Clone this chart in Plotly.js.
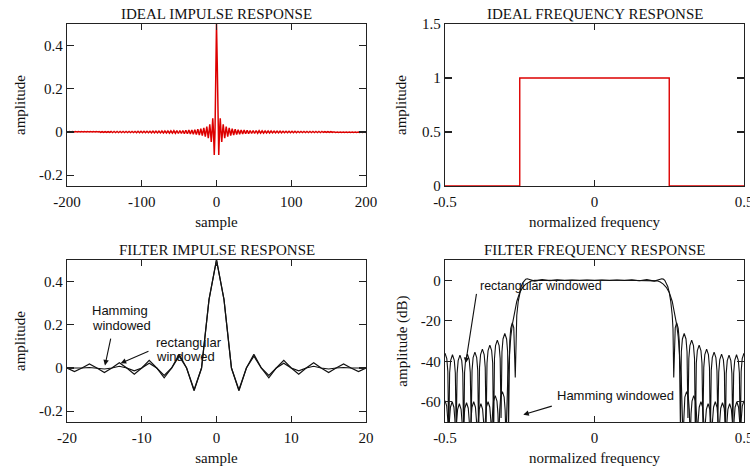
<!DOCTYPE html>
<html>
<head>
<meta charset="utf-8">
<script src="https://cdn.plot.ly/plotly-3.0.1.min.js"></script>
<style>
  html, body { margin: 0; padding: 0; background: #fff; }
  #chart { width: 750px; height: 466px; }
</style>
</head>
<body>
<div id="chart"></div>
<script>
// ---------------- DATA ----------------
// Ideal impulse response: value at n = 0 and signed values at odd samples n = 1,3,5,...,199 (even samples are 0, symmetric)
const idealCenter = 0.5;
const idealOddSigned = [
  0.3183, -0.1061, 0.0637, -0.0455, 0.0354, -0.0289, 0.0245, -0.0212, 0.0187, -0.0168,
  0.0152, -0.0138, 0.0127, -0.0118, 0.0110, -0.0103, 0.0096, -0.0091, 0.0086, -0.0082,
  0.0078, -0.0074, 0.0071, -0.0068, 0.0065, -0.0062, 0.0060, -0.0058, 0.0056, -0.0054,
  0.0052, -0.0051, 0.0049, -0.0048, 0.0046, -0.0045, 0.0044, -0.0042, 0.0041, -0.0040,
  0.0039, -0.0038, 0.0037, -0.0037, 0.0036, -0.0035, 0.0034, -0.0034, 0.0033, -0.0032,
  0.0032, -0.0031, 0.0030, -0.0030, 0.0029, -0.0029, 0.0028, -0.0028, 0.0027, -0.0027,
  0.0026, -0.0026, 0.0025, -0.0025, 0.0025, -0.0024, 0.0024, -0.0024, 0.0023, -0.0023,
  0.0023, -0.0022, 0.0022, -0.0022, 0.0021, -0.0021, 0.0021, -0.0021, 0.0020, -0.0020,
  0.0020, -0.0020, 0.0019, -0.0019, 0.0019, -0.0019, 0.0018, -0.0018, 0.0018, -0.0018,
  0.0018, -0.0017, 0.0017, -0.0017, 0.0017, -0.0017, 0.0016, -0.0016, 0.0016, -0.0016
];

// Ideal frequency response (normalized frequency, amplitude)
const idealFreq = [-0.5, -0.25, -0.25, 0.25, 0.25, 0.5];
const idealAmp  = [0, 0, 1, 1, 0, 0];

// Filter impulse response, samples -20..20
const filterSamples = [-20,-19,-18,-17,-16,-15,-14,-13,-12,-11,-10,-9,-8,-7,-6,-5,-4,-3,-2,-1,0,
                       1,2,3,4,5,6,7,8,9,10,11,12,13,14,15,16,17,18,19,20];
const rectImpulse = [0,-0.0168,0,0.0187,0,-0.0212,0,0.0245,0,-0.0289,0,0.0354,0,-0.0455,0,0.0637,0,-0.1061,0,0.3183,0.5,
                     0.3183,0,-0.1061,0,0.0637,0,-0.0455,0,0.0354,0,-0.0289,0,0.0245,0,-0.0212,0,0.0187,0,-0.0168,0];
const hammImpulse = [0,-0.0014,0,0.0024,0,-0.0046,0,0.0081,0,-0.0135,0,0.0217,0,-0.0341,0,0.0551,0,-0.1008,0,0.3165,0.5,
                     0.3165,0,-0.1008,0,0.0551,0,-0.0341,0,0.0217,0,-0.0135,0,0.0081,0,-0.0046,0,0.0024,0,-0.0014,0];

// Filter frequency response (dB), positive half 0..0.5 (response is symmetric about 0)
const rectFreq = [0,0.025,0.05,0.075,0.1,0.125,0.15,0.175,0.2,0.225,0.23,0.235,0.24,0.245,0.25,0.255,0.26,0.2625,0.265,
  0.27,0.275,0.28,0.2835,0.2875,
  0.2905,0.294,0.3,0.306,0.3095,0.3125,
  0.3155,0.319,0.325,0.331,0.3345,0.3375,
  0.3405,0.344,0.35,0.356,0.3595,0.3625,
  0.3655,0.369,0.375,0.381,0.3845,0.3875,
  0.3905,0.394,0.4,0.406,0.4095,0.4125,
  0.4155,0.419,0.425,0.431,0.4345,0.4375,
  0.4405,0.444,0.45,0.456,0.4595,0.4625,
  0.4655,0.469,0.475,0.481,0.4845,0.4875,
  0.4905,0.494,0.5];
const rectDb = [-0.14,0.1,-0.11,0.13,-0.15,0.17,-0.22,0.28,-0.43,0.74,0.56,-0.06,-1.26,-3.1,-6,-10.4,-17.4,-23.9,-48,
  -23.5,-21,-23.7,-30,-74,
  -35.3,-29,-26.3,-29,-35.3,-68,
  -38.6,-32.3,-29.6,-32.3,-38.6,-80,
  -41,-34.7,-32,-34.7,-41,-72,
  -43,-36.7,-34,-36.7,-43,-78,
  -44.5,-38.2,-35.5,-38.2,-44.5,-70,
  -45.5,-39.2,-36.5,-39.2,-45.5,-82,
  -46,-39.7,-37,-39.7,-46,-74,
  -45.8,-39.5,-36.8,-39.5,-45.8,-79,
  -45,-38.7,-36];
const hammFreq = [0,0.1,0.18,0.2,0.21,0.22,0.23,0.24,0.25,0.26,0.27,0.275,0.28,0.285,0.29,0.296,
  0.2989,0.3022,0.308,0.3138,0.3171,0.32,
  0.3229,0.3262,0.332,0.3378,0.3411,0.344,
  0.3469,0.3502,0.356,0.3618,0.3651,0.368,
  0.3709,0.3742,0.38,0.3858,0.3891,0.392,
  0.3949,0.3982,0.404,0.4098,0.4131,0.416,
  0.4189,0.4222,0.428,0.4338,0.4371,0.44,
  0.4429,0.4462,0.452,0.4578,0.4611,0.464,
  0.4669,0.4702,0.476,0.4818,0.4851,0.488,
  0.4909,0.4942,0.5];
const hammDb = [0,0,-0.02,-0.06,-0.3,-0.9,-1.9,-3.5,-6,-10.5,-17.5,-22,-28,-36,-48,-78,
  -64,-57.7,-55,-57.7,-64,-80,
  -66,-59.7,-57,-59.7,-66,-76,
  -69,-62.7,-60,-62.7,-69,-82,
  -70,-63.7,-61,-63.7,-70,-77,
  -69,-62.7,-60,-62.7,-69,-80,
  -69.5,-63.2,-60.5,-63.2,-69.5,-75,
  -70,-63.7,-61,-63.7,-70,-81,
  -69,-62.7,-60,-62.7,-69,-78,
  -68.5,-62.2,-59.5];

// Tick labels
const tlXTicks = [-200,-100,0,100,200], tlXText = ['-200','-100','0','100','200'];
const tlYTicks = [-0.2,0,0.2,0.4],      tlYText = ['-0.2','0','0.2','0.4'];
const trXTicks = [-0.5,0,0.5],          trXText = ['-0.5','0','0.5'];
const trYTicks = [0,0.5,1,1.5],         trYText = ['0','0.5','1','1.5'];
const blXTicks = [-20,-10,0,10,20],     blXText = ['-20','-10','0','10','20'];
const blYTicks = [-0.2,0,0.2,0.4],      blYText = ['-0.2','0','0.2','0.4'];
const brXTicks = [-0.5,0,0.5],          brXText = ['-0.5','0','0.5'];
const brYTicks = [-60,-40,-20,0],       brYText = ['-60','-40','-20','0'];

// ---------------- BUILD ----------------
const idealSamples = [], idealValues = [];
for (let n = -200; n <= 200; n++) {
  idealSamples.push(n);
  const a = Math.abs(n);
  if (n === 0) idealValues.push(idealCenter);
  else if (a % 2 === 0) idealValues.push(0);
  else idealValues.push(idealOddSigned[(a - 1) / 2]);
}
function mirror(f, v) {
  const xs = [], ys = [];
  for (let i = f.length - 1; i >= 1; i--) { xs.push(-f[i]); ys.push(v[i]); }
  for (let i = 0; i < f.length; i++) { xs.push(f[i]); ys.push(v[i]); }
  return [xs, ys];
}
const [rx, ry] = mirror(rectFreq, rectDb);
const [hx, hy] = mirror(hammFreq, hammDb);

const RED = '#dd0000', BLK = '#111';
const traces = [
  {x: idealSamples, y: idealValues, xaxis: 'x', yaxis: 'y', mode: 'lines', line: {color: RED, width: 1.5}},
  {x: idealFreq, y: idealAmp, xaxis: 'x2', yaxis: 'y2', mode: 'lines', line: {color: RED, width: 1.4}},
  {x: filterSamples, y: rectImpulse, xaxis: 'x3', yaxis: 'y3', mode: 'lines', line: {color: BLK, width: 1.2}},
  {x: filterSamples, y: hammImpulse, xaxis: 'x3', yaxis: 'y3', mode: 'lines', line: {color: BLK, width: 1.2}},
  {x: rx, y: ry, xaxis: 'x4', yaxis: 'y4', mode: 'lines', line: {color: BLK, width: 1.1}},
  {x: hx, y: hy, xaxis: 'x4', yaxis: 'y4', mode: 'lines', line: {color: BLK, width: 1.1}}
];

const SERIF = 'Liberation Serif, Times New Roman, serif';
const SANS = 'Liberation Sans, Arial, sans-serif';
const W = 750, H = 466;
const dx = (a, b) => [a / W, b / W];
const dy = (top, bottom) => [(H - bottom) / H, (H - top) / H];

function axis(domain, range, tv, tt, title, standoff, anchor, len, isX) {
  const a = {
    domain: domain, range: range, anchor: anchor,
    tickmode: 'array', tickvals: tv, ticktext: tt,
    ticks: 'inside', ticklen: len, tickwidth: 1.2, tickcolor: '#222',
    mirror: 'ticks', showline: true, linecolor: '#222', linewidth: 1.3,
    showgrid: false, zeroline: false, fixedrange: true,
    ticklabeloverflow: 'allow',
    tickfont: {family: SERIF, size: 15, color: '#111'},
    title: {text: title, standoff: standoff, font: {family: SERIF, size: 15, color: '#111'}}
  };
  if (isX) a.ticklabelstandoff = 2;
  return a;
}

const layout = {
  width: W, height: H, showlegend: false,
  margin: {l: 0, r: 0, t: 0, b: 0},
  paper_bgcolor: '#fff', plot_bgcolor: '#fff',
  xaxis:  axis(dx(67, 366), [-200, 200], tlXTicks, tlXText, 'sample', 7, 'y', 6, true),
  yaxis:  axis(dy(24, 186), [-0.25, 0.5], tlYTicks, tlYText, 'amplitude', 9, 'x', 7, false),
  xaxis2: axis(dx(445, 744), [-0.5, 0.5], trXTicks, trXText, 'normalized frequency', 7, 'y2', 6, true),
  yaxis2: axis(dy(24, 186), [0, 1.5], trYTicks, trYText, 'amplitude', 11, 'x2', 7, false),
  xaxis3: axis(dx(67, 366), [-20, 20], blXTicks, blXText, 'sample', 7, 'y3', 6, true),
  yaxis3: axis(dy(260, 422), [-0.25, 0.5], blYTicks, blYText, 'amplitude', 9, 'x3', 7, false),
  xaxis4: axis(dx(445, 744), [-0.5, 0.5], brXTicks, brXText, 'normalized frequency', 7, 'y4', 6, true),
  yaxis4: axis(dy(260, 422), [-70, 10], brYTicks, brYText, 'amplitude (dB)', 9, 'x4', 7, false),
  annotations: [
    {text: 'IDEAL IMPULSE RESPONSE', xref: 'paper', yref: 'paper', x: (67 + 366) / 2 / W, y: (H - 24) / H, xanchor: 'center', yanchor: 'bottom', showarrow: false, font: {family: SERIF, size: 15, color: '#111'}},
    {text: 'IDEAL FREQUENCY RESPONSE', xref: 'paper', yref: 'paper', x: (445 + 744) / 2 / W, y: (H - 24) / H, xanchor: 'center', yanchor: 'bottom', showarrow: false, font: {family: SERIF, size: 15, color: '#111'}},
    {text: 'FILTER IMPULSE RESPONSE', xref: 'paper', yref: 'paper', x: (67 + 366) / 2 / W, y: (H - 260) / H, xanchor: 'center', yanchor: 'bottom', showarrow: false, font: {family: SERIF, size: 15, color: '#111'}},
    {text: 'FILTER FREQUENCY RESPONSE', xref: 'paper', yref: 'paper', x: (445 + 744) / 2 / W, y: (H - 260) / H, xanchor: 'center', yanchor: 'bottom', showarrow: false, font: {family: SERIF, size: 15, color: '#111'}},

    {text: 'Hamming', xref: 'x3', yref: 'y3', x: -16.92, y: 0.264, xanchor: 'left', yanchor: 'middle', showarrow: false, font: {family: SANS, size: 13, color: '#111'}},
    {text: 'windowed', xref: 'x3', yref: 'y3', x: -16.92, y: 0.199, xanchor: 'left', yanchor: 'middle', showarrow: false, font: {family: SANS, size: 13, color: '#111'}},
    {text: 'rectangular', xref: 'x3', yref: 'y3', x: -8.36, y: 0.116, xanchor: 'left', yanchor: 'middle', showarrow: false, font: {family: SANS, size: 13, color: '#111'}},
    {text: 'windowed', xref: 'x3', yref: 'y3', x: -8.36, y: 0.051, xanchor: 'left', yanchor: 'middle', showarrow: false, font: {family: SANS, size: 13, color: '#111'}},
    {text: '', xref: 'x3', yref: 'y3', x: -14.92, y: 0.012, axref: 'x3', ayref: 'y3', ax: -14.11, ay: 0.143, showarrow: true, arrowhead: 2, arrowsize: 1, arrowwidth: 1.1, arrowcolor: '#111'},
    {text: '', xref: 'x3', yref: 'y3', x: -12.82, y: 0.022, axref: 'x3', ayref: 'y3', ax: -8.9, ay: 0.080, showarrow: true, arrowhead: 2, arrowsize: 1, arrowwidth: 1.1, arrowcolor: '#111'},

    {text: 'rectangular windowed', xref: 'x4', yref: 'y4', x: -0.3886, y: -3.0, xanchor: 'left', yanchor: 'middle', showarrow: false, font: {family: SANS, size: 12.5, color: '#111'}},
    {text: 'Hamming windowed', xref: 'x4', yref: 'y4', x: -0.132, y: -57.0, xanchor: 'left', yanchor: 'middle', showarrow: false, font: {family: SANS, size: 13, color: '#111'}},
    {text: '', xref: 'x4', yref: 'y4', x: -0.4308, y: -40.9, axref: 'x4', ayref: 'y4', ax: -0.394, ay: -5.95, showarrow: true, arrowhead: 2, arrowsize: 1, arrowwidth: 1.1, arrowcolor: '#111'},
    {text: '', xref: 'x4', yref: 'y4', x: -0.2381, y: -66.4, axref: 'x4', ayref: 'y4', ax: -0.1378, ay: -61.95, showarrow: true, arrowhead: 2, arrowsize: 1, arrowwidth: 1.1, arrowcolor: '#111'}
  ]
};

Plotly.newPlot('chart', traces, layout, {displayModeBar: false, staticPlot: true});
</script>
</body>
</html>
